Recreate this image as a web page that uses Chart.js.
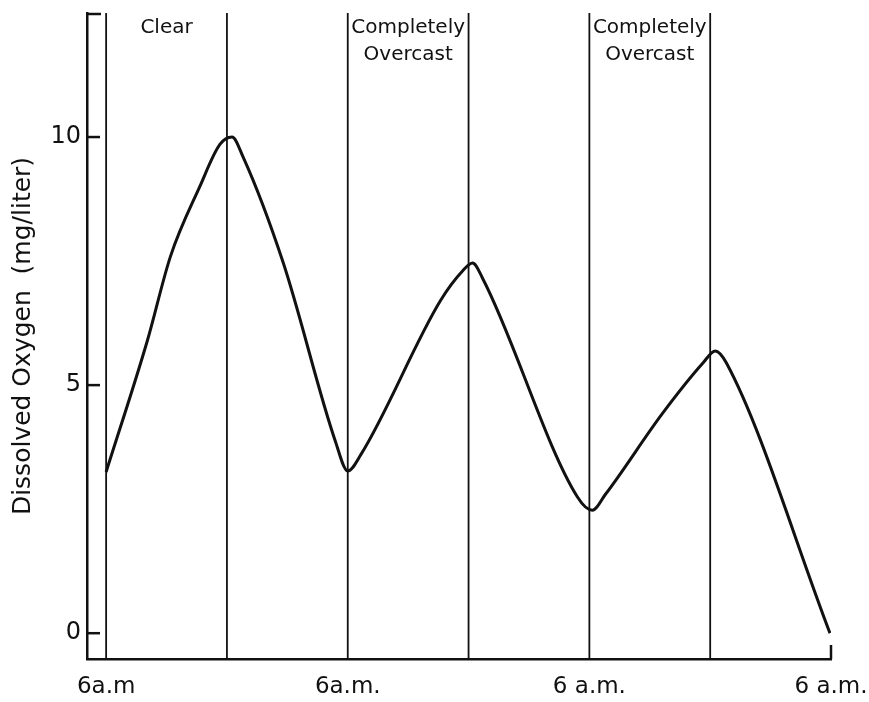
<!DOCTYPE html>
<html>
<head>
<meta charset="utf-8">
<script src="https://cdn.jsdelivr.net/npm/chart.js@4"></script>
<style>
    html, body { margin: 0; padding: 0; background: #fff; }
    #wrap { width: 869px; height: 702px; }
</style>
</head>
<body>
<div id="wrap"><canvas id="chart"></canvas></div>
<script>
    // hours after the first 6 a.m. and dissolved oxygen
    var hours  = [0, 4.1, 6.4, 9.3, 11.3, 12.5, 13.6, 17.6, 22.8, 24, 25.3, 33.2, 35.4, 36.4, 37.4, 46.8, 48.3, 49.6, 55.3, 59.3, 60.5, 61.6, 71.9];
    var oxygen = [3.25, 5.9, 7.6, 9.0, 9.85, 10.0, 9.6, 7.46, 3.85, 3.27, 3.6, 6.7, 7.3, 7.46, 7.15, 2.75, 2.48, 2.8, 4.44, 5.45, 5.69, 5.45, 0];

    var dividers = [0, 12, 24, 36, 48, 60];
    var periodHours = [6, 30, 54];
    var periodLabels = [['Clear'], ['Completely', 'Overcast'], ['Completely', 'Overcast']];

    var xTickValues = [0, 24, 48, 72];
    var xTickLabels = ['6a.m', '6a.m.', '6 a.m.', '6 a.m.'];
    var yTickValues = [0, 5, 10];

    var FONT = '"DejaVu Sans", sans-serif';

    var points = hours.map(function (h, i) { return { x: h, y: oxygen[i] }; });

    var decorPlugin = {
        id: 'decor',
        afterDraw: function (chart) {
            var ctx = chart.ctx;
            var area = chart.chartArea;
            var xs = chart.scales.x;
            var ys = chart.scales.y;
            ctx.save();
            ctx.strokeStyle = '#111';

            // vertical day / night lines
            ctx.lineWidth = 1.8;
            dividers.forEach(function (h) {
                var px = xs.getPixelForValue(h);
                ctx.beginPath();
                ctx.moveTo(px, area.top);
                ctx.lineTo(px, area.bottom);
                ctx.stroke();
            });

            // short end tick at last 6 a.m.
            ctx.lineWidth = 2.5;
            var endX = xs.getPixelForValue(72);
            ctx.beginPath();
            ctx.moveTo(endX, area.bottom - 14);
            ctx.lineTo(endX, area.bottom);
            ctx.stroke();

            // inward y ticks and top bracket
            ys.ticks.forEach(function (t) {
                var py = ys.getPixelForValue(t.value);
                ctx.beginPath();
                ctx.moveTo(area.left, py);
                ctx.lineTo(area.left + 13, py);
                ctx.stroke();
            });
            ctx.beginPath();
            ctx.moveTo(area.left, area.top + 1);
            ctx.lineTo(area.left + 14, area.top + 1);
            ctx.stroke();

            // sky condition labels
            ctx.fillStyle = '#111';
            ctx.font = '20px ' + FONT;
            ctx.textAlign = 'center';
            ctx.textBaseline = 'alphabetic';
            periodHours.forEach(function (h, i) {
                var px = xs.getPixelForValue(h);
                periodLabels[i].forEach(function (line, j) {
                    ctx.fillText(line, px, 33 + j * 27);
                });
            });
            ctx.restore();
        }
    };

    new Chart(document.getElementById('chart'), {
        type: 'line',
        data: {
            datasets: [{
                data: points,
                borderColor: '#111',
                borderWidth: 3,
                pointRadius: 0,
                fill: false,
                cubicInterpolationMode: 'monotone'
            }]
        },
        options: {
            responsive: true,
            maintainAspectRatio: false,
            animation: false,
            events: [],
            layout: { padding: { top: 13, right: 38, left: 0, bottom: 0 } },
            plugins: { legend: { display: false }, tooltip: { enabled: false } },
            scales: {
                x: {
                    type: 'linear',
                    min: -1.9,
                    max: 72,
                    afterBuildTicks: function (scale) {
                        scale.ticks = xTickValues.map(function (v) { return { value: v }; });
                    },
                    afterFit: function (scale) {
                        scale.height = 43;
                        scale.paddingLeft = 0;
                        scale.paddingRight = 0;
                    },
                    grid: { display: false, drawTicks: false },
                    border: { display: true, color: '#111', width: 2.5 },
                    ticks: {
                        autoSkip: false,
                        maxRotation: 0,
                        padding: 14,
                        color: '#111',
                        font: { family: FONT, size: 23 },
                        callback: function (v) { return xTickLabels[xTickValues.indexOf(v)]; }
                    }
                },
                y: {
                    min: -0.52,
                    max: 12.5,
                    afterBuildTicks: function (scale) {
                        scale.ticks = yTickValues.map(function (v) { return { value: v }; });
                    },
                    afterFit: function (scale) {
                        scale.width = 87;
                        scale.paddingTop = 0;
                        scale.paddingBottom = 0;
                    },
                    grid: { display: false, drawTicks: false },
                    border: { display: true, color: '#111', width: 2.5 },
                    ticks: {
                        padding: 6,
                        color: '#111',
                        font: { family: FONT, size: 24 }
                    },
                    title: {
                        display: true,
                        text: 'Dissolved Oxygen  (mg/liter)',
                        color: '#111',
                        font: { family: FONT, size: 25 },
                        padding: { top: 8, bottom: 0 }
                    }
                }
            }
        },
        plugins: [decorPlugin]
    });
</script>
</body>
</html>
